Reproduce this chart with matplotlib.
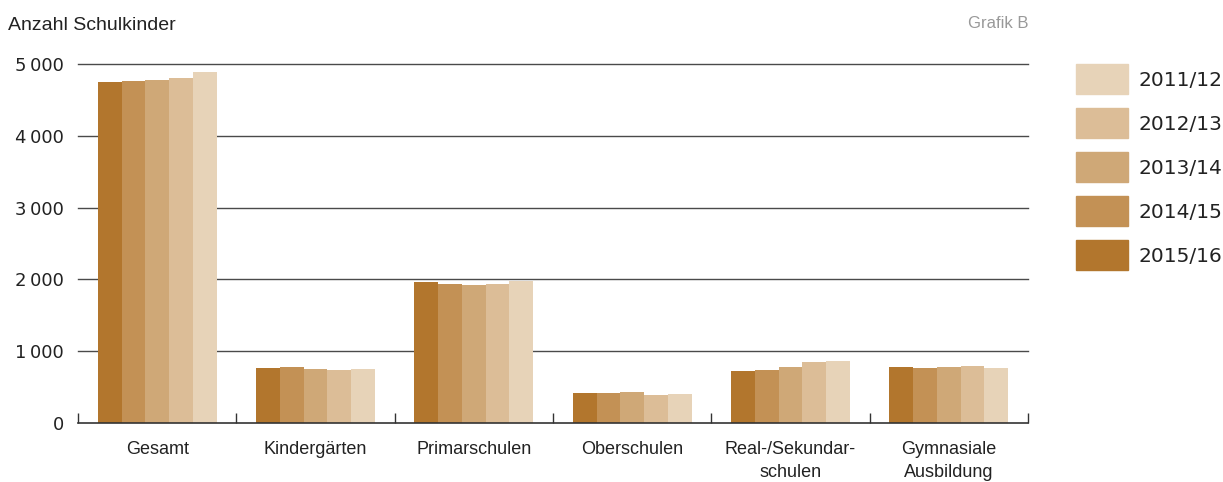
import matplotlib
matplotlib.use("Agg")
from matplotlib import pyplot as plt
from matplotlib.patches import Rectangle
import numpy as np

# Daten
kategorien = ['Gesamt', 'Kindergärten', 'Primarschulen', 'Oberschulen',
              'Real-/Sekundar-\nschulen', 'Gymnasiale\nAusbildung']
jahre = ['2015/16', '2014/15', '2013/14', '2012/13', '2011/12']
werte_2015 = [4752, 763, 1962, 417, 722, 778]
werte_2014 = [4766, 777, 1935, 417, 736, 764]
werte_2013 = [4780, 749, 1921, 431, 778, 778]
werte_2012 = [4808, 735, 1935, 389, 847, 792]
werte_2011 = [4892, 749, 1976, 403, 861, 764]
y_ticks = [0, 1000, 2000, 3000, 4000, 5000]

serien = [werte_2015, werte_2014, werte_2013, werte_2012, werte_2011]
farben = ['#B2762D', '#C39155', '#CFA877', '#DCBD97', '#E7D3B8']

plt.rcParams['font.family'] = ['Liberation Sans', 'DejaVu Sans']
textfarbe = '#222222'
W, H = 1223, 482

fig = plt.figure(figsize=(W / 100, H / 100), dpi=100)
ax = fig.add_axes([78 / W, 1 - 423 / H, 950 / W, 359 / H])

x = np.arange(len(kategorien)) + 0.5
breite = 0.15
for i, (werte, farbe) in enumerate(zip(serien, farben)):
    ax.bar(x + (i - 2) * breite, werte, width=breite, color=farbe, zorder=3)

ax.set_xlim(0, len(kategorien))
ax.set_ylim(0, 5000)

# Gitter
ax.set_yticks(y_ticks)
ax.set_yticklabels([f'{v:,}'.replace(',', '\u2009') for v in y_ticks],
                   fontsize=13, color=textfarbe, family=['DejaVu Sans'])
for v in y_ticks[1:]:
    ax.axhline(v, color='#4a4a4a', lw=1.0, zorder=1, clip_on=False)
ax.tick_params(axis='y', length=0, pad=10)

# x-Achse mit Trennstrichen
ax.set_xticks(np.arange(len(kategorien) + 1))
ax.set_xticklabels([])
ax.set_xticks(x, minor=True)
ax.set_xticklabels(kategorien, minor=True, fontsize=13, color=textfarbe, linespacing=1.45)
ax.tick_params(axis='x', which='major', direction='in', length=7, width=1, color='#333333')
ax.tick_params(axis='x', which='minor', length=0, pad=13)

for s in ['top', 'right', 'left']:
    ax.spines[s].set_visible(False)
ax.spines['bottom'].set_color('#333333')
ax.spines['bottom'].set_linewidth(1.2)
ax.spines['bottom'].set_zorder(4)

fig.text(8 / W, 1 - 25 / H, 'Anzahl Schulkinder', fontsize=14, color=textfarbe,
         va='center', ha='left')
fig.text(1028 / W, 1 - 23 / H, 'Grafik B', fontsize=12, color='#999999',
         va='center', ha='right')

# Legende (hellste oben)
for k, (farbe, jahr) in enumerate(zip(farben[::-1], jahre[::-1])):
    oben = 64 + 44 * k
    fig.patches.append(Rectangle((1076 / W, 1 - (oben + 30) / H), 52 / W, 30 / H,
                                 transform=fig.transFigure, color=farbe))
    fig.text(1139 / W, 1 - (oben + 16) / H, jahr, fontsize=14.5, color=textfarbe,
             va='center', ha='left', family=['DejaVu Sans'])

fig.savefig('out.png', dpi=100)
